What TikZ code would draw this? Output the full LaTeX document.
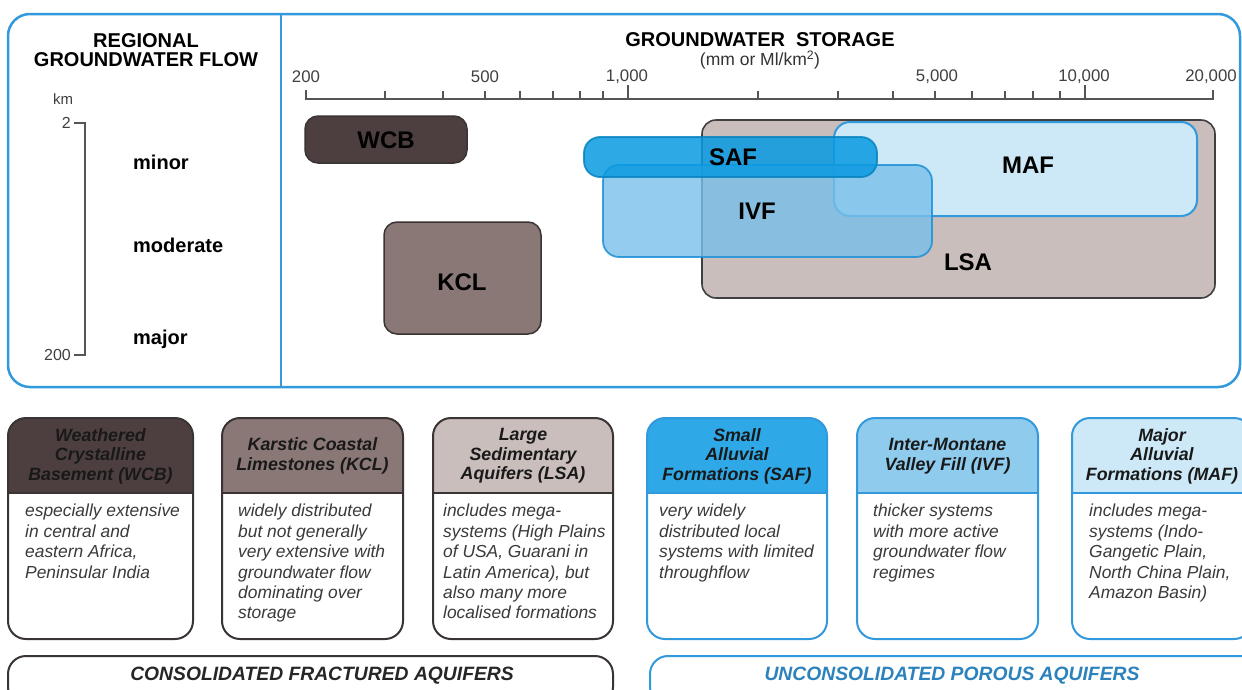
\documentclass[tikz,border=0pt]{standalone}
\usepackage{fontspec}
\setmainfont{Liberation Sans}
\definecolor{fblue}{HTML}{3399DD}
\definecolor{wcbc}{HTML}{4D3F3F}
\definecolor{kclc}{HTML}{8A7876}
\definecolor{lsac}{HTML}{C9BEBC}
\definecolor{safc}{HTML}{099AE2}
\definecolor{safcard}{HTML}{2EA8E6}
\definecolor{ivfc}{HTML}{78C0EA}
\definecolor{ivfline}{HTML}{1E90D6}
\definecolor{ivfcard}{HTML}{8ECBED}
\definecolor{mafc}{HTML}{CDE8F6}
\definecolor{axisc}{HTML}{555555}
\definecolor{bordc}{HTML}{3A3434}
\definecolor{bodyc}{HTML}{3A3A3A}
\newcommand\aqcard[4]{%
  \begin{scope}
    \clip[rounded corners=18pt] (#1,418) rectangle (#2,639);
    \fill[#3] (#1,418) rectangle (#2,493);
  \end{scope}
  \draw[#4, line width=1.2pt] (#1,493) -- (#2,493);
  \draw[#4, line width=2pt, rounded corners=18pt] (#1,418) rectangle (#2,639);
}
\begin{document}
\begin{tikzpicture}[x=1pt,y=-1pt,
  hdr/.style={font=\fontsize{17.8}{19.5}\selectfont\bfseries\itshape, align=center, text=black!90, inner sep=0pt},
  body/.style={font=\fontsize{17.4}{20.4}\selectfont\itshape, align=left, anchor=north west, inner sep=0pt, text=bodyc},
  lbl/.style={font=\fontsize{24}{26}\selectfont\bfseries, inner sep=0pt},
  side/.style={font=\fontsize{20}{22}\selectfont\bfseries, anchor=west, inner sep=0pt},
  ticklbl/.style={font=\fontsize{16.8}{18}\selectfont, text=black!75, inner sep=0pt},
  banner/.style={font=\fontsize{19.3}{21}\selectfont\bfseries\itshape, inner sep=0pt}]
\useasboundingbox (0,0) rectangle (1242,689);
\clip (0,0) rectangle (1242,689);
\fill[white] (0,0) rectangle (1242,689);

% ---------- top frame ----------
\draw[fblue, line width=2.5pt, rounded corners=22pt] (8,14) rectangle (1240,387);
\draw[fblue, line width=2.5pt] (281,14) -- (281,387);

% left panel
\node[font=\fontsize{20}{19.5}\selectfont\bfseries, align=center, inner sep=0pt] (rgf) at (146,50) {REGIONAL\\GROUNDWATER FLOW};
\node[font=\fontsize{15}{17}\selectfont, text=black!75, inner sep=0pt] (km) at (63,99) {km};
\node[font=\fontsize{16}{18}\selectfont, text=black!75, anchor=east, inner sep=0pt] (k2) at (71,123) {2};
\node[font=\fontsize{16}{18}\selectfont, text=black!75, anchor=east, inner sep=0pt] (k200) at (71,355) {200};
\draw[axisc, line width=1.3pt] (74,123) -- (85,123) -- (85,355) -- (74,355);
\node[side] (minor) at (133,162) {minor};
\node[side] (moderate) at (133,245) {moderate};
\node[side] (major) at (133,339) {major};

% axis
\node[font=\fontsize{20}{21}\selectfont\bfseries, inner sep=0pt] (gws) at (760,40) {GROUNDWATER\hspace{0.55em}STORAGE};
\node[font=\fontsize{17.5}{18}\selectfont, text=black!80, inner sep=0pt] (unit) at (760,60) {(mm or Ml/km\textsuperscript{2})};
\draw[axisc, line width=1.4pt] (306,90) -- (306,99) -- (1213,99) -- (1213,90);
\foreach \t in {385,443,485,520,553,580,603,758,838,893,935,972,1005,1033,1060}
  \draw[axisc, line width=1.3pt] (\t,99) -- (\t,91);
\foreach \t in {628,1085}
  \draw[axisc, line width=1.6pt] (\t,99) -- (\t,85);
\node[ticklbl] (t200) at (306,77) {200};
\node[ticklbl] (t500) at (485,77) {500};
\node[ticklbl] (t1k) at (627,77) {1,000};
\node[ticklbl] (t5k) at (937,77) {5,000};
\node[ticklbl] (t10k) at (1084,77) {10,000};
\node[ticklbl] (t20k) at (1211,77) {20,000};

% chart boxes
\draw[bordc, line width=1.5pt, fill=wcbc, rounded corners=13pt] (305,116) rectangle (467,163);
\draw[bordc, line width=1.5pt, fill=kclc, rounded corners=13pt] (384,222) rectangle (541,334);
\draw[black!75, line width=1.6pt, fill=lsac, rounded corners=14pt] (702,120) rectangle (1215,298);
\draw[fblue, line width=2pt, fill=mafc, rounded corners=16pt] (834,122) rectangle (1197,216);
\draw[ivfline, line width=1.8pt, draw opacity=0.85, fill=ivfc, fill opacity=0.8, rounded corners=16pt] (603,165) rectangle (932,257);
\draw[safc!85!black, line width=1.8pt, draw opacity=0.85, fill=safc, fill opacity=0.85, rounded corners=16pt] (584,137) rectangle (877,177);

\node[lbl] (wcb) at (386,140) {WCB};
\node[lbl] (kcl) at (462,282) {KCL};
\node[lbl] (saf) at (733,157) {SAF};
\node[lbl] (ivf) at (757,211) {IVF};
\node[lbl] (maf) at (1028,165) {MAF};
\node[lbl] (lsa) at (968,262) {LSA};

% ---------- cards ----------
\aqcard{8}{193}{wcbc}{bordc}
\aqcard{222}{403}{kclc}{bordc}
\aqcard{433}{613}{lsac}{bordc}
\aqcard{647}{827}{safcard}{fblue}
\aqcard{857}{1038}{ivfcard}{fblue}
\aqcard{1072}{1252}{mafc}{fblue}

\node[hdr] (hwcb) at (100.5,456) {Weathered\\Crystalline\\Basement (WCB)};
\node[hdr] (hkcl) at (312.5,456) {Karstic Coastal\\Limestones (KCL)};
\node[hdr] (hlsa) at (523,456) {Large\\Sedimentary\\Aquifers (LSA)};
\node[hdr] (hsaf) at (737,456) {Small\\Alluvial\\Formations (SAF)};
\node[hdr] (hivf) at (947.5,456) {Inter-Montane\\Valley Fill (IVF)};
\node[hdr] (hmaf) at (1162,456) {Major\\Alluvial\\Formations (MAF)};

\node[body] (bwcb) at (25,504) {especially extensive\\in central and\\eastern Africa,\\Peninsular India};
\node[body] (bkcl) at (238,504) {widely distributed\\but not generally\\very extensive with\\groundwater flow\\dominating over\\storage};
\node[body] (blsa) at (443,504) {includes mega-\\systems (High Plains\\of USA, Guarani in\\Latin America), but\\also many more\\localised formations};
\node[body] (bsaf) at (659,504) {very widely\\distributed local\\systems with limited\\throughflow};
\node[body] (bivf) at (873,504) {thicker systems\\with more active\\groundwater flow\\regimes};
\node[body] (bmaf) at (1089,504) {includes mega-\\systems (Indo-\\Gangetic Plain,\\North China Plain,\\Amazon Basin)};

% ---------- banners ----------
\draw[bordc, line width=2pt, rounded corners=18pt] (8,656) rectangle (613,705);
\draw[fblue, line width=2pt, rounded corners=18pt] (650,656) rectangle (1262,705);
\node[banner, text=black!85] (cfa) at (322,676) {CONSOLIDATED FRACTURED AQUIFERS};
\node[banner, text=fblue!85!black] (upa) at (952,676) {UNCONSOLIDATED POROUS AQUIFERS};
\end{tikzpicture}
\end{document}
